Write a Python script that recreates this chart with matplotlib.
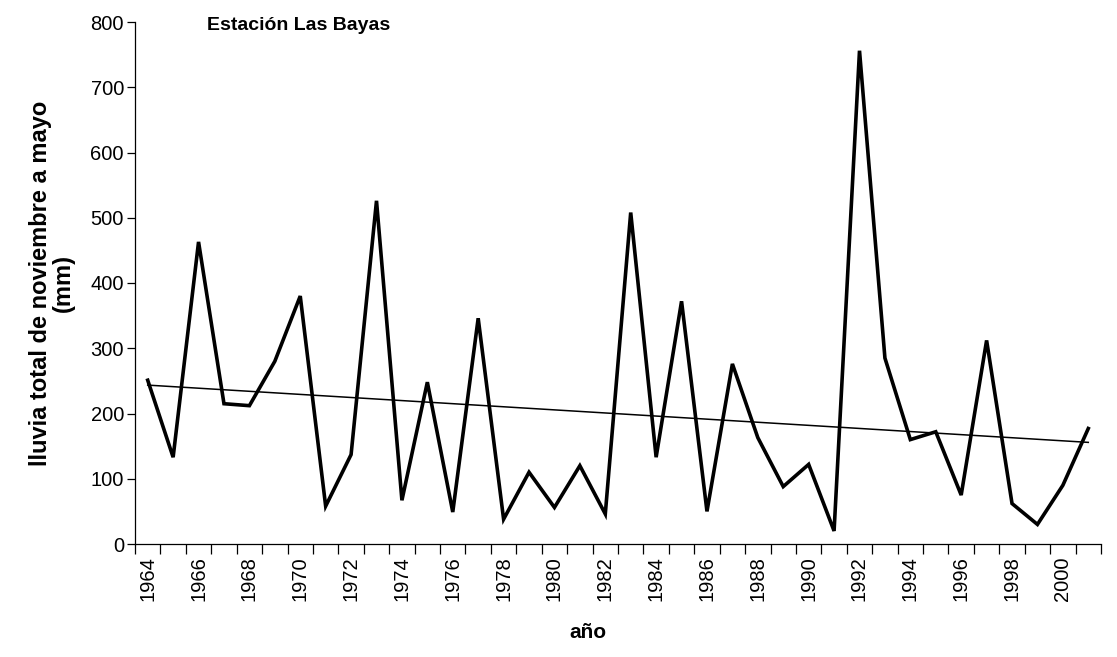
import numpy as np
import matplotlib
matplotlib.use("Agg")
import matplotlib.pyplot as plt
from matplotlib.ticker import FixedLocator, NullFormatter

plt.rcParams['font.family'] = ['Liberation Sans', 'DejaVu Sans']

# ----------------- datos -----------------
years = list(range(1964, 2002))
lluvia = [251, 133, 463, 215, 212, 280, 380, 58, 137, 526,
          67, 248, 49, 346, 38, 110, 56, 120, 46, 508,
          133, 372, 50, 276, 163, 88, 122, 20, 756, 285,
          160, 172, 75, 312, 62, 30, 90, 177]
tick_years = [str(y) for y in range(1964, 2001, 2)]
y_ticks = [0, 100, 200, 300, 400, 500, 600, 700, 800]

x = np.arange(len(years))
slope, inter = np.polyfit(x, lluvia, 1)
trend = slope * x + inter

# ----------------- figura -----------------
W, H = 1117, 657
fig = plt.figure(figsize=(W / 100, H / 100), dpi=100)
ax = fig.add_axes([135 / W, 1 - 544 / H, 966 / W, 522 / H])

ax.plot(x, lluvia, color='black', linewidth=2.6, solid_joinstyle='miter')
ax.plot(x, trend, color='black', linewidth=1.1)

ax.set_xlim(-0.5, len(years) - 0.5)
ax.set_ylim(0, 800)

# categorias: etiquetas cada 2 años, marcas entre categorias
ax.set_xticks(x[::2])
ax.set_xticklabels(tick_years, rotation=90, fontsize=14.5)
ax.xaxis.set_minor_locator(FixedLocator(np.arange(-0.5, len(years), 1)))
ax.xaxis.set_minor_formatter(NullFormatter())
ax.tick_params(axis='x', which='major', length=0, pad=9)
ax.tick_params(axis='x', which='minor', length=7, width=0.9, direction='out')

ax.set_yticks(y_ticks)
ax.set_yticklabels([str(v) for v in y_ticks], fontsize=14.5)
ax.tick_params(axis='y', length=6, width=0.9, direction='out', pad=2)

for s in ['top', 'right']:
    ax.spines[s].set_visible(False)
for s in ['left', 'bottom']:
    ax.spines[s].set_linewidth(0.9)

fig.text(207 / W, 1 - 25 / H, "Estación Las Bayas", ha='left', va='center',
         fontsize=14, fontweight='bold')
fig.text(52 / W, 1 - 283 / H, "lluvia total de noviembre a mayo\n(mm)",
         rotation=90, ha='center', va='center', multialignment='center',
         fontsize=17, fontweight='bold', linespacing=1.0)
fig.text(588 / W, 1 - 632 / H, "año", ha='center', va='center',
         fontsize=15, fontweight='bold')

fig.savefig("out.png", dpi=100)
